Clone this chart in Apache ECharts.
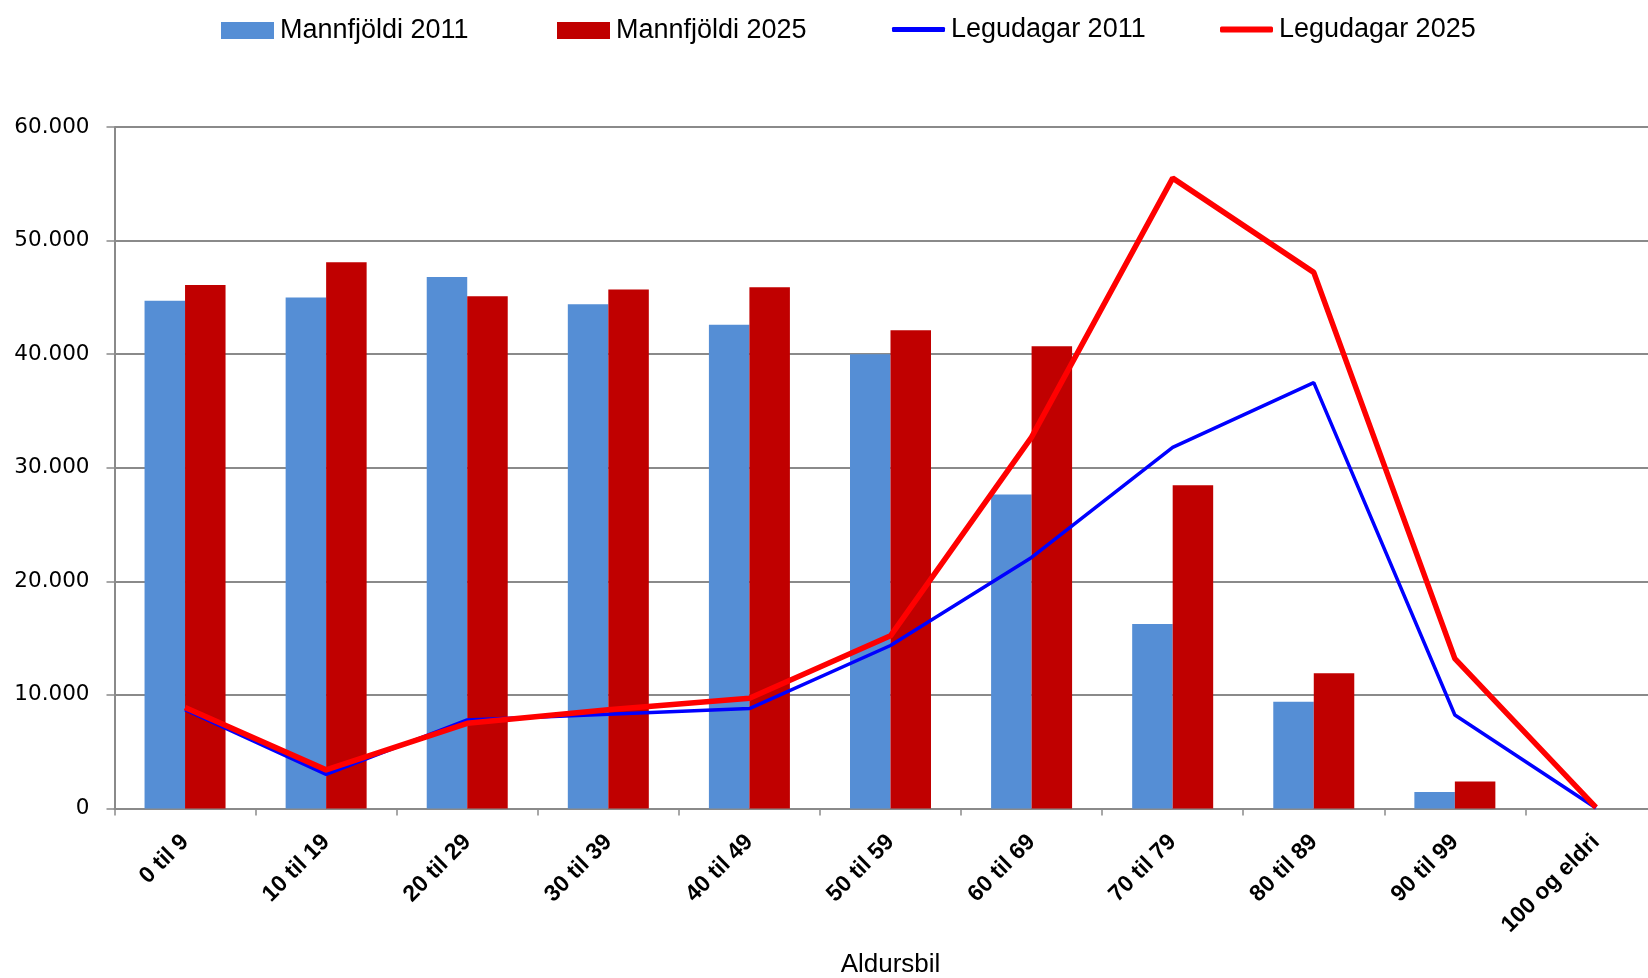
<!DOCTYPE html>
<html>
<head>
<meta charset="utf-8">
<script src="https://cdn.jsdelivr.net/npm/echarts@6/dist/echarts.min.js"></script>
<style>
html,body{margin:0;padding:0;background:#fff;}
#chart{width:1648px;height:978px;}
</style>
</head>
<body>
<div id="chart"></div>
<script>
const categories = ['0 til 9', '10 til 19', '20 til 29', '30 til 39', '40 til 49', '50 til 59', '60 til 69', '70 til 79', '80 til 89', '90 til 99', '100 og eldri'];
const mannfjoldi2011 = [44700, 45000, 46800, 44400, 42600, 40000, 27650, 16250, 9400, 1450, 0];
const mannfjoldi2025 = [46100, 48100, 45100, 45700, 45900, 42100, 40700, 28450, 11900, 2380, 0];
const legudagar2011 = [8700, 3000, 7800, 8300, 8800, 14350, 22100, 31800, 37500, 8230, 50];
const legudagar2025 = [8900, 3400, 7500, 8700, 9700, 15200, 32700, 55500, 47200, 13200, 100];
const yTicks = [0, 10000, 20000, 30000, 40000, 50000, 60000];
const seriesNames = ['Mannfjöldi 2011', 'Mannfjöldi 2025', 'Legudagar 2011', 'Legudagar 2025'];

function fmt(v) {
  if (v === 0) return '0';
  return String(v).replace(/\B(?=(\d{3})+(?!\d))/g, '.');
}

const legendFont = { fontFamily: 'Liberation Sans', fontSize: 27, color: '#000', padding: [0, 0, 0, 1] };
const legendLefts = [221, 557, 892, 1220];
const legendIcons = ['rect', 'rect', 'roundRect', 'roundRect'];
const legendHeights = [17, 17, 5, 6];
const legendTops = [17, 17, 16, 16];
const legends = seriesNames.map((n, i) => ({
  data: [n],
  left: legendLefts[i],
  top: legendTops[i],
  icon: legendIcons[i],
  itemWidth: 53,
  itemHeight: legendHeights[i],
  itemGap: 0,
  padding: 0,
  textStyle: legendFont,
  selectedMode: false
}));

const grey = '#8a8a8a';
const chart = echarts.init(document.getElementById('chart'), null, { renderer: 'canvas' });
chart.setOption({
  backgroundColor: '#fff',
  animation: false,
  legend: legends,
  grid: {
    left: 114.5,
    right: -18.5,
    top: 127,
    bottom: 169.5,
    containLabel: false,
    outerBoundsMode: 'none'
  },
  xAxis: {
    type: 'category',
    data: categories,
    name: 'Aldursbil',
    nameLocation: 'middle',
    nameGap: 143,
    nameTextStyle: { fontFamily: 'Liberation Sans', fontSize: 26, color: '#000' },
    axisLine: { show: true, lineStyle: { color: grey, width: 2 } },
    axisTick: { show: true, inside: false, length: 7, alignWithLabel: false, lineStyle: { color: grey, width: 1.5 } },
    axisLabel: {
      rotate: 45,
      margin: 30,
      interval: 0,
      fontFamily: 'Liberation Sans',
      fontWeight: 'bold',
      fontSize: 23,
      color: '#000'
    },
    splitLine: { show: false }
  },
  yAxis: {
    type: 'value',
    min: yTicks[0],
    max: yTicks[yTicks.length - 1],
    interval: 10000,
    axisLine: { show: true, lineStyle: { color: grey, width: 2 } },
    axisTick: { show: true, inside: false, length: 8, lineStyle: { color: grey, width: 1.5 } },
    axisLabel: {
      margin: 25,
      fontFamily: 'DejaVu Sans',
      fontSize: 21.5,
      color: '#000',
      formatter: fmt
    },
    splitLine: { show: true, lineStyle: { color: grey, width: 2 } }
  },
  series: [
    {
      name: seriesNames[0],
      type: 'bar',
      data: mannfjoldi2011,
      barWidth: 40.5,
      barGap: '0%',
      itemStyle: { color: '#558ED5' }
    },
    {
      name: seriesNames[1],
      type: 'bar',
      data: mannfjoldi2025,
      barWidth: 40.5,
      barGap: '0%',
      itemStyle: { color: '#C00000' }
    },
    {
      name: seriesNames[2],
      type: 'line',
      data: legudagar2011,
      symbol: 'none',
      showSymbol: false,
      lineStyle: { color: '#0000FF', width: 3.5 },
      itemStyle: { color: '#0000FF' },
      z: 3
    },
    {
      name: seriesNames[3],
      type: 'line',
      data: legudagar2025,
      symbol: 'none',
      showSymbol: false,
      lineStyle: { color: '#FF0000', width: 5.5 },
      itemStyle: { color: '#FF0000' },
      z: 4
    }
  ]
});
</script>
</body>
</html>
